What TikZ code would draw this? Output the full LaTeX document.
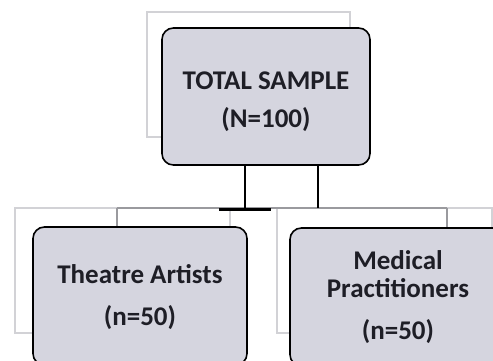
\documentclass[tikz,border=0pt]{standalone}
\usepackage{fontspec}
\setmainfont{Carlito}
\usepackage{xcolor}
\usetikzlibrary{positioning,calc}
\definecolor{ink}{HTML}{1E1E26}
\definecolor{boxfill}{HTML}{D5D5DF}
\definecolor{cardgray}{HTML}{D2D2D6}
\definecolor{linegray}{HTML}{9A9A9E}

\begin{document}
\begin{tikzpicture}[x=1pt,y=-1pt, every node/.style={font=\bfseries\fontsize{27}{28}\selectfont,text=ink}, card/.style={draw=cardgray,fill=white,line width=1.2pt,inner sep=0pt}, bx/.style={draw=black,fill=boxfill,line width=1.6pt,rounded corners=4mm,align=center,inner sep=0pt}, gl/.style={draw=linegray,line width=2.2pt}, bl/.style={draw=black,line width=2.4pt}]
\useasboundingbox (0,0) rectangle (493,360);
\clip (0,0) rectangle (493,360);
% shadow cards
\node[card,minimum width=203pt,minimum height=125pt] (tc) at (248.5,74.5) {};
\node[card,minimum width=215pt,minimum height=125pt] (lc) at (122.5,270.5) {};
\node[card,minimum width=215pt,minimum height=125pt] (rc) at (384.5,270.5) {};
% gray branch
\coordinate (gl1) at (117,208);\coordinate (gr1) at (447,208);
\draw[gl] (gl1)--(gr1);
\draw[gl] (gl1)--++(0,20);\draw[gl] (gr1)--++(0,20);
% boxes
\node[bx,minimum width=208pt,minimum height=137pt] (top) at (266,96.5) {\rule{0pt}{28pt}TOTAL SAMPLE\\[10pt](N=100)};
\node[bx,minimum width=214pt,minimum height=138pt] (ta) at (140,296) {\rule{0pt}{22pt}Theatre Artists\\[14pt](n=50)};
\node[bx,minimum width=216pt,minimum height=138pt] (mp) at (398,297) {Medical\\Practitioners\\[14pt](n=50)};
% black stubs
\coordinate (j1) at (245,208);\coordinate (j2) at (318,208);
\draw[bl] (top.south -| j1)--(j1);\draw[bl] (top.south -| j2)--(j2);
\draw[black,line width=3pt] ($(j1)+(-26,1)$)--($(j1)+(26,1)$);
\end{tikzpicture}
\end{document}
